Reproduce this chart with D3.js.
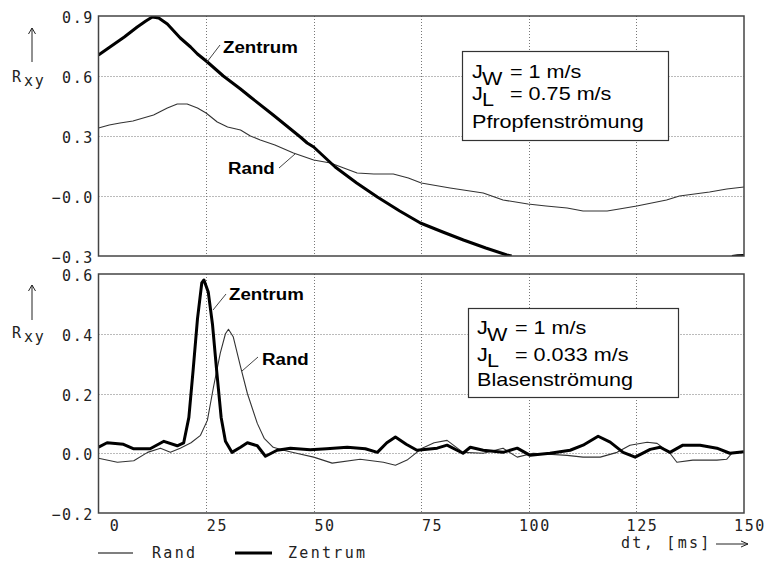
<!DOCTYPE html>
<html><head><meta charset="utf-8">
<script src="https://cdn.jsdelivr.net/npm/d3@7"></script>
<style>
html,body{margin:0;padding:0;background:#fff;}
svg{display:block;}
.mono{font-family:"DejaVu Sans Mono",monospace;font-size:15px;fill:#222;}
.sans{font-family:"Liberation Sans",Arial,sans-serif;fill:#000;}
</style></head>
<body>
<svg id="c" width="771" height="563"></svg>
<script>
// ---------- data ----------
const xTickValues = [0, 25, 50, 75, 100, 125, 150];
const xTickLabels = ["0", "25", "50", "75", "100", "125", "150"];
const topYTickValues = [0.9, 0.6, 0.3, 0.0, -0.3];
const topYTickLabels = ["0.9", "0.6", "0.3", "\u22120.0", "\u22120.3"];
const botYTickValues = [0.6, 0.4, 0.2, 0.0, -0.2];
const botYTickLabels = ["0.6", "0.4", "0.2", "0.0", "\u22120.2"];

// top panel (Pfropfenströmung)
const topZentrumT = [0,3,6,9,11,12.5,14,16,19,21.4,23,25.3,29,33,35.3,40.6,46.9,48.5,50,55,60,64.8,70,74.8,80,84.8,90,94.9,96,  null, 147.2,148.5,150];
const topZentrumV = [0.705,0.75,0.795,0.845,0.875,0.895,0.89,0.86,0.79,0.745,0.71,0.67,0.60,0.535,0.495,0.405,0.295,0.265,0.245,0.145,0.065,-0.005,-0.075,-0.135,-0.18,-0.22,-0.26,-0.295,-0.30, null, -0.302,-0.299,-0.297];
const topRandT = [0,2.5,5,8,12.8,16,18.3,20.6,23,25,27.6,30,33,35.3,37.6,41,45.3,50,53.9,57,60.1,64,68.5,72,75,81.7,89.4,94,99.8,104,108.9,112.6,118.2,121,125.1,132,135,142,146,150];
const topRandV = [0.34,0.355,0.365,0.375,0.405,0.44,0.46,0.46,0.44,0.415,0.37,0.345,0.33,0.30,0.28,0.255,0.215,0.18,0.165,0.14,0.115,0.11,0.11,0.09,0.065,0.04,0.015,-0.02,-0.04,-0.05,-0.06,-0.075,-0.075,-0.065,-0.05,-0.02,0.0,0.02,0.035,0.045];

// bottom panel (Blasenströmung)
const botZentrumT = [0,2,5.8,8.2,12,15.2,18.3,19.8,21,22,23,24,24.5,25.5,26.5,27.5,28.5,29.5,31,33,34.6,36.9,38.8,41.5,44.6,49.2,53,57.8,62,64.8,67,69,71.5,74,78.7,81,84.7,86.4,89.4,94,97.3,100.3,104.9,109.6,112.6,116.1,118.9,121.9,124.7,128.2,130.5,132.8,135.8,139.8,143.7,146.7,150];
const botZentrumV = [0.02,0.035,0.03,0.015,0.015,0.04,0.025,0.035,0.12,0.28,0.45,0.57,0.58,0.54,0.43,0.27,0.12,0.04,0.003,0.02,0.035,0.025,-0.01,0.01,0.017,0.012,0.015,0.02,0.015,0.003,0.035,0.054,0.03,0.01,0.017,0.027,0.0,0.02,0.01,0.003,0.017,-0.007,0.0,0.01,0.027,0.057,0.037,0.003,-0.013,0.013,0.02,0.003,0.027,0.027,0.017,0.0,0.005];
const botRandT = [0,4.4,8.2,11.4,14.4,16.7,19,21.5,23.7,25.3,26.7,28.3,29.5,30.2,31.3,33,34.6,36.9,38.5,40.6,43,46,50,54.3,60.8,66.2,69,71.7,75.2,78,81,84.7,89.4,94,97.3,101,108.9,112.6,116.6,120.5,123.5,127.5,129.8,132.8,134.4,138.1,143.7,146,147.2,150];
const botRandV = [-0.017,-0.03,-0.025,0.003,0.017,0.003,0.017,0.035,0.06,0.11,0.22,0.335,0.40,0.415,0.39,0.29,0.2,0.1,0.05,0.02,0.01,0.0,-0.013,-0.033,-0.02,-0.03,-0.04,-0.023,0.017,0.035,0.043,0.003,0.0,0.017,-0.013,0.0,-0.007,-0.013,-0.013,0.003,0.027,0.037,0.033,0.0,-0.03,-0.023,-0.023,-0.02,0.0,0.005];

// ---------- layout ----------
const svg = d3.select("#c");
const X0 = 98.5, X1 = 744;
const x = d3.scaleLinear().domain([0, 150]).range([X0, X1]);
const panels = [
  { y: d3.scaleLinear().domain([-0.3, 0.9]).range([256, 16]), top: 16, bottom: 256,
    ticks: topYTickValues, labels: topYTickLabels,
    series: [
      { t: topRandT, v: topRandV, w: 1.1, c: "#333" },
      { t: topZentrumT, v: topZentrumV, w: 3, c: "#000" } ],
    ylab: { ry: 82, ay0: 62, ay1: 28 },
    notes: [
      { text: "Zentrum", x: 223, y: 53, lx1: 207, ly1: 62, lx2: 220, ly2: 45 },
      { text: "Rand", x: 228, y: 174, lx1: 279, ly1: 168, lx2: 295, ly2: 154 } ],
    box: { x: 462, y: 51, w: 206, h: 89, jx: 472, eq: 510, b1: 78, b2: 100, b3: 128,
      l1: "= 1 m/s", l2: "= 0.75 m/s", l3: "Pfropfenströmung" }
  },
  { y: d3.scaleLinear().domain([-0.2, 0.6]).range([513, 274]), top: 274, bottom: 513,
    ticks: botYTickValues, labels: botYTickLabels,
    series: [
      { t: botRandT, v: botRandV, w: 1.1, c: "#333" },
      { t: botZentrumT, v: botZentrumV, w: 3, c: "#000" } ],
    ylab: { ry: 338, ay0: 320, ay1: 285 },
    notes: [
      { text: "Zentrum", x: 229, y: 300, lx1: 213, ly1: 310, lx2: 226, ly2: 294 },
      { text: "Rand", x: 262, y: 365, lx1: 242, ly1: 371, lx2: 258, ly2: 357 } ],
    box: { x: 468, y: 308, w: 210, h: 89, jx: 477, eq: 515, b1: 334, b2: 361, b3: 386,
      l1: "= 1 m/s", l2: "= 0.033 m/s", l3: "Blasenströmung" }
  }
];

panels.forEach((p, pi) => {
  const g = svg.append("g");
  const cid = "clip" + pi;
  svg.append("clipPath").attr("id", cid).append("rect")
    .attr("x", X0).attr("y", p.top).attr("width", X1 - X0).attr("height", p.bottom - p.top);

  // grid (dotted)
  const grid = g.append("g").attr("stroke", "#777").attr("stroke-width", 1).attr("stroke-dasharray", "1,2");
  xTickValues.filter(v => v > 0 && v < 150).forEach(v => {
    grid.append("line").attr("x1", Math.round(x(v)) + 0.5).attr("x2", Math.round(x(v)) + 0.5)
      .attr("y1", p.top).attr("y2", p.bottom);
  });
  p.ticks.filter((v, i) => i > 0 && i < p.ticks.length - 1).forEach(v => {
    grid.append("line").attr("y1", Math.round(p.y(v)) + 0.5).attr("y2", Math.round(p.y(v)) + 0.5)
      .attr("x1", X0).attr("x2", X1);
  });

  // y axis labels via d3 axis
  const ax = g.append("g").attr("transform", `translate(${X0},0)`)
    .call(d3.axisLeft(p.y).tickValues(p.ticks).tickSize(0).tickPadding(0)
      .tickFormat((d, i) => p.labels[i]));
  ax.select(".domain").remove();
  ax.selectAll("text").attr("class", "mono").attr("font-family", null).attr("font-size", null)
    .attr("x", -4.5).attr("dy", "0.38em").style("letter-spacing", "1.6px").attr("fill", "#222");
  ax.selectAll(".tick").attr("transform", d => `translate(0,${p.y(d) + 1.5})`);

  // series
  const line = d3.line().defined(d => d[1] != null).x(d => x(d[0])).y(d => p.y(d[1]));
  const lg = g.append("g").attr("clip-path", `url(#${cid})`);
  p.series.forEach(s => {
    const pts = s.t.map((t, i) => [t, s.v[i]]);
    lg.append("path").datum(pts).attr("d", line).attr("fill", "none")
      .attr("stroke", s.c).attr("stroke-width", s.w).attr("stroke-linejoin", "round");
  });

  // frame
  g.append("rect").attr("x", X0).attr("y", p.top).attr("width", X1 - X0).attr("height", p.bottom - p.top)
    .attr("fill", "none").attr("stroke", "#444").attr("stroke-width", 1.5);

  // y label R_xy with arrow
  const yl = p.ylab;
  g.append("text").attr("class", "mono").attr("x", 12).attr("y", yl.ry).text("R");
  g.append("text").attr("class", "mono").attr("x", 24).attr("y", yl.ry + 4).style("letter-spacing", "1.6px").text("xy");
  g.append("path").attr("d", `M32,${yl.ay0}V${yl.ay1}M28.5,${yl.ay1 + 6}L32,${yl.ay1}L35.5,${yl.ay1 + 6}`)
    .attr("fill", "none").attr("stroke", "#222").attr("stroke-width", 1);

  // annotations
  p.notes.forEach(n => {
    g.append("line").attr("x1", n.lx1).attr("y1", n.ly1).attr("x2", n.lx2).attr("y2", n.ly2)
      .attr("stroke", "#444").attr("stroke-width", 1);
    g.append("text").attr("class", "sans").attr("font-weight", "bold").attr("font-size", 17)
      .attr("transform", `translate(${n.x},${n.y}) scale(1.1,1)`).text(n.text);
  });

  // info box
  const b = p.box;
  g.append("rect").attr("x", b.x + 0.5).attr("y", b.y + 0.5).attr("width", b.w).attr("height", b.h)
    .attr("fill", "#fff").attr("stroke", "#333").attr("stroke-width", 1.2);
  const T = (tx, ty, s) => g.append("text").attr("class", "sans").attr("font-size", 18)
    .attr("transform", `translate(${tx},${ty}) scale(1.2,1)`).text(s);
  T(b.jx, b.b1, "J");
  T(b.jx + 10, b.b1 + 7, "W");
  T(b.eq, b.b1, b.l1);
  T(b.jx, b.b2, "J");
  T(b.jx + 10, b.b2 + 6, "L");
  T(b.eq, b.b2, b.l2);
  T(b.jx, b.b3, b.l3);
});

// x axis tick labels (bottom panel only)
const xa = svg.append("g").attr("transform", "translate(0,513)")
  .call(d3.axisBottom(x).tickValues(xTickValues).tickSize(0).tickPadding(0)
    .tickFormat((d, i) => xTickLabels[i]));
xa.select(".domain").remove();
xa.selectAll("text").attr("class", "mono").attr("font-family", null).attr("font-size", null)
  .attr("text-anchor", "end").attr("x", 21.5).attr("y", 18).attr("dy", 0)
  .style("letter-spacing", "1.6px").attr("fill", "#222");

// x axis title with arrow
svg.append("text").attr("class", "mono").attr("x", 621).attr("y", 548)
  .style("letter-spacing", "2.3px").text("dt, [ms]");
svg.append("path").attr("d", "M716,544H748M741,541L748,544L741,547")
  .attr("fill", "none").attr("stroke", "#222").attr("stroke-width", 1);

// legend
const legendItems = [
  { name: "Rand", w: 1.1, x1: 98, x2: 133, tx: 152 },
  { name: "Zentrum", w: 3, x1: 235, x2: 272, tx: 288 }
];
legendItems.forEach(l => {
  svg.append("line").attr("x1", l.x1).attr("x2", l.x2).attr("y1", 553).attr("y2", 553)
    .attr("stroke", "#000").attr("stroke-width", l.w);
  svg.append("text").attr("class", "mono").attr("x", l.tx).attr("y", 558)
    .style("letter-spacing", "2.3px").text(l.name);
});
</script>
</body></html>
